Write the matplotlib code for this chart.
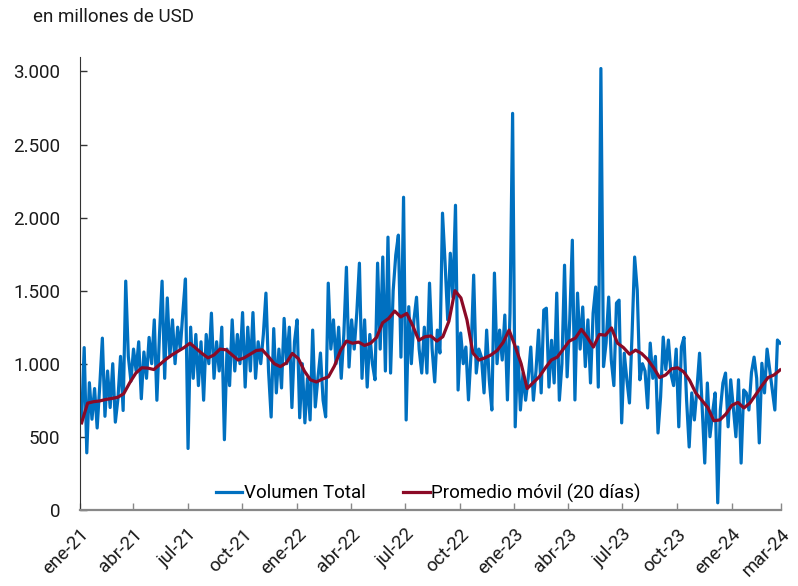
import numpy as np
import pandas as pd
import matplotlib.pyplot as plt
import matplotlib.ticker as mticker

plt.rcParams["font.family"] = ["Roboto", "DejaVu Sans"]

# volumen diario (aprox. 7 observaciones por mes)
vol_2021 = [
    600, 1110, 390, 870, 620, 830, 560,
    850, 1175, 640, 950, 700, 1000, 600,
    760, 1050, 680, 1565, 1050, 880, 1100,
    950, 1150, 760, 1080, 900, 1180, 1000,
    1300, 750, 1200, 1565, 900, 1450, 1050,
    1300, 1000, 1250, 1100, 1350, 1580, 420,
    1250, 900, 1200, 850, 1150, 750, 1200,
    1000, 1346, 900, 1150, 950, 1250, 480,
    1100, 850, 1300, 950, 1200, 1000, 1350,
    840, 1250, 950, 1350, 900, 1150, 1000,
    1200, 1483, 950, 635, 1240, 800, 1100,
    834, 1310, 1000, 1250, 700, 1150, 1300,
]
vol_2022 = [
    630, 1000, 595, 900, 615, 1230, 704,
    900, 1073, 750, 636, 1551, 1100, 1300,
    1000, 1250, 900, 1200, 1660, 977, 1300,
    1100, 1350, 1688, 900, 1300, 840, 1200,
    1000, 890, 1688, 1100, 1730, 950, 1866,
    936, 1500, 1743, 1880, 1045, 2139, 615,
    1390, 1000, 1300, 1455, 1100, 936, 1250,
    936, 1551, 1100, 875, 1230, 1073, 2030,
    1688, 1300, 1756, 1455, 2084, 820, 1210,
    1000, 1114, 752, 1073, 1606, 936, 1100,
    1045, 800, 1230, 890, 683, 1620, 1000,
    1230, 1025, 1333, 752, 1346, 2713, 568,
]
vol_2023 = [
    1114, 683, 936, 750, 900, 1114, 750,
    950, 1230, 800, 1367, 1380, 840, 1160,
    868, 1483, 750, 1000, 1674, 910, 1300,
    1845, 752, 1483, 1100, 1388, 980, 1300,
    868, 1346, 1525, 840, 3020, 980, 1141,
    1456, 1025, 850, 1415, 1435, 595, 1072,
    890, 731, 1200, 1730, 1503, 890, 1000,
    950, 697, 1141, 900, 1050, 526, 773,
    1182, 960, 1162, 930, 850, 1100, 568,
    1114, 1180, 752, 430, 800, 615, 830,
    1072, 704, 320, 868, 500, 663, 800,
    48, 683, 868, 936, 568, 890, 700,
]
vol_2024 = [
    500, 890, 320, 820, 800, 683, 940,
    1045, 900, 458, 1003, 800, 1100, 960,
    820, 683, 1162, 1141,
]

# promedio movil de 20 dias (aprox. 3 observaciones por mes)
prom_movil = [
    595, 730, 740, 745, 755, 762, 770, 795, 870, 935, 972, 970,
    960, 995, 1030, 1060, 1085, 1110, 1140, 1105, 1070, 1040, 1060, 1100,
    1095, 1060, 1025, 1040, 1065, 1090, 1095, 1050, 1000, 980, 1005, 1070,
    1035, 950, 890, 875, 895, 910, 985, 1090, 1155, 1140, 1148, 1125,
    1140, 1180, 1280, 1310, 1360, 1320, 1344, 1260, 1160, 1184, 1190, 1155,
    1185, 1290, 1500, 1450, 1300, 1073, 1025, 1040, 1060, 1090, 1145, 1230,
    1120, 1000, 830, 870, 910, 970, 1025, 1045, 1100, 1155, 1175, 1235,
    1180, 1114, 1200, 1195, 1245, 1141, 1110, 1065, 1093, 1070, 1030, 972,
    905, 923, 965, 972, 944, 885, 800, 750, 700, 610, 615, 655,
    715, 735, 697, 731, 790, 850, 905, 923, 957,
]

meses = ["ene", "abr", "jul", "oct"]
inicio, fin = "2021-01-04", "2024-03-22"

vol = vol_2021 + vol_2022 + vol_2023 + vol_2024
fechas_vol = pd.date_range(inicio, fin, periods=len(vol))
fechas_pm = pd.date_range(inicio, fin, periods=len(prom_movil))

fig, ax = plt.subplots(figsize=(7.98, 5.86), dpi=100)
fig.subplots_adjust(left=0.100, right=0.979, bottom=0.130, top=0.903)

ax.plot(fechas_vol, vol, color="#0070C0", linewidth=2.3, label="Volumen Total")
ax.plot(fechas_pm, prom_movil, color="#8B0A26", linewidth=2.3, label="Promedio móvil (20 días)")

ax.set_ylim(0, 3100)
ax.set_yticks(np.arange(0, 3001, 500))
ax.yaxis.set_major_formatter(mticker.FuncFormatter(lambda v, p: f"{int(v):,}".replace(",", ".")))

ax.set_xlim(pd.Timestamp("2021-01-01"), pd.Timestamp("2024-03-24"))
ticks = list(pd.date_range("2021-01-01", "2024-01-01", freq="QS"))
labels = [f"{meses[(t.month - 1) // 3]}-{t.strftime('%y')}" for t in ticks]
ticks.append(pd.Timestamp("2024-03-24"))
labels.append("mar-24")
ax.set_xticks(ticks)
ax.set_xticklabels(labels, rotation=45, ha="right", rotation_mode="anchor")

ax.tick_params(axis="y", direction="in", length=5, width=1, color="#333333", labelsize=13.5, pad=14, labelcolor="#1a1a1a")
ax.tick_params(axis="x", direction="in", length=5, width=1, color="#888888", labelsize=13.5, pad=11, labelcolor="#1a1a1a")

for s in ["top", "right"]:
    ax.spines[s].set_visible(False)
ax.spines["left"].set_color("#333333")
ax.spines["bottom"].set_color("#888888")
ax.spines["bottom"].set_linewidth(1.6)

ax.legend(loc="center", bbox_to_anchor=(0.497, 0.037), ncol=2, frameon=False,
          fontsize=13.5, handlelength=1.4, handletextpad=0.1, columnspacing=2.0)

fig.text(33 / 798, 1 - 17 / 586, "en millones de USD", fontsize=13.5, va="center", ha="left", color="#1a1a1a")

plt.savefig("out.png", dpi=100)
